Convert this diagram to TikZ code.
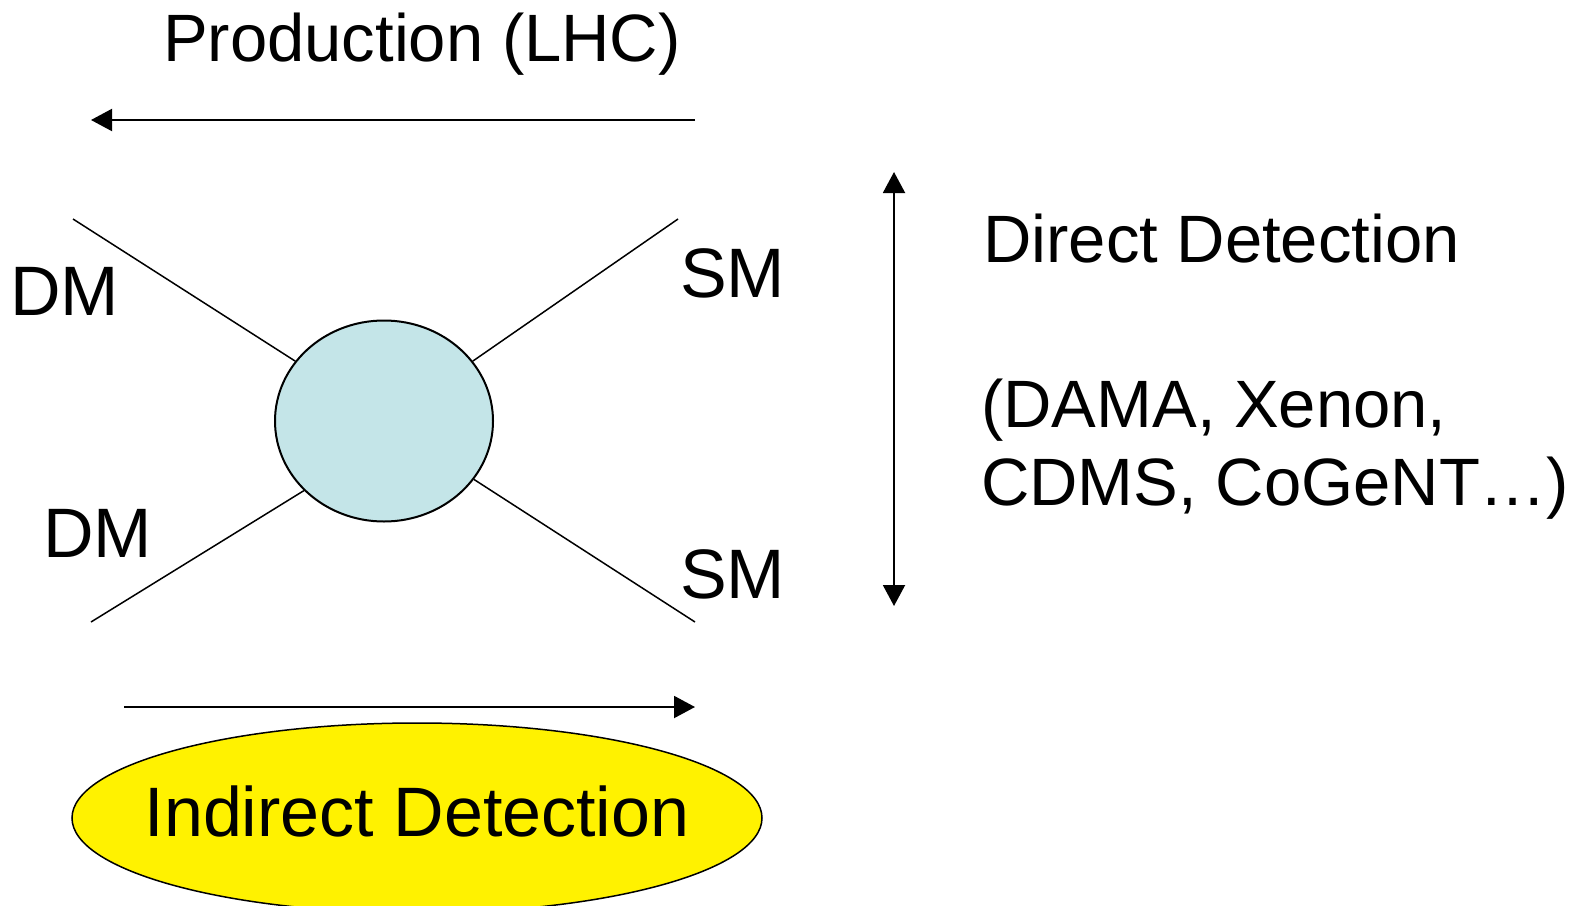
\documentclass[tikz,border=0pt]{standalone}
\usepackage{fontspec}
\setmainfont{Liberation Sans}
\usepackage{tikz}
\usetikzlibrary{positioning}
\usetikzlibrary{shapes.geometric,arrows.meta}
\definecolor{blobfill}{RGB}{196,229,232}
\tikzstyle{txt} = [inner sep=0pt, anchor=base west, font=\fontsize{67}{78}\selectfont]
\tikzstyle{leglbl} = [txt, font=\fontsize{70}{80}\selectfont]
\tikzstyle{blob} = [ellipse, draw=black, line width=2pt, fill=blobfill, minimum width=218pt, minimum height=201pt]
\tikzstyle{ind} = [ellipse, draw=black, line width=1.5pt, fill=yellow, minimum width=690pt, minimum height=190pt]
\tikzstyle{leg} = [line width=1.5pt]
\tikzstyle{arr} = [line width=2pt, -{Triangle[length=21pt,width=22pt]}]

\begin{document}
\begin{tikzpicture}[x=1pt,y=-1pt]
    \useasboundingbox (0,0) rectangle (1592,905);
    \node (Prod) [txt] at (163,61) {Production (LHC)};
    \coordinate (ProdR) at (695,120);
    \coordinate (ProdL) at (91,120);
    \draw[arr] (ProdR) -- (ProdL);
    \node (Blob) [blob] at (384,421) {};
    \coordinate (DMin1) at (73,219);
    \coordinate (SMout1) at (678,219);
    \coordinate (DMin2) at (91,622);
    \coordinate (SMout2) at (695,622);
    \draw[leg] (DMin1) -- (Blob.146);
    \draw[leg] (SMout1) -- (Blob.34);
    \draw[leg] (DMin2) -- (Blob.221);
    \draw[leg] (SMout2) -- (Blob.327);
    \node (DM1) [leglbl] at (10,315) {DM};
    \node (SM1) [leglbl] at (680,297) {SM};
    \node (DM2) [leglbl] at (43,557) {DM};
    \node (SM2) [leglbl] at (680,598) {SM};
    \coordinate (DirTop) at (894,172);
    \coordinate (DirBot) at (894,606);
    \draw[arr, {Triangle[length=21pt,width=22pt]}-{Triangle[length=21pt,width=22pt]}] (DirTop) -- (DirBot);
    \node (Dir) [txt] at (983,262) {Direct Detection};
    \node (Exps) [txt, align=left] at (981,505) {(DAMA, Xenon,\\CDMS, CoGeNT\ldots)};
    \coordinate (IndL) at (124,707);
    \coordinate (IndR) at (695,707);
    \draw[arr] (IndL) -- (IndR);
    \node (Ind) [ind, label={[inner sep=0pt, yshift=7pt, font=\fontsize{70}{80}\selectfont]center:Indirect Detection}] at (417,818) {};
\end{tikzpicture}
\end{document}
